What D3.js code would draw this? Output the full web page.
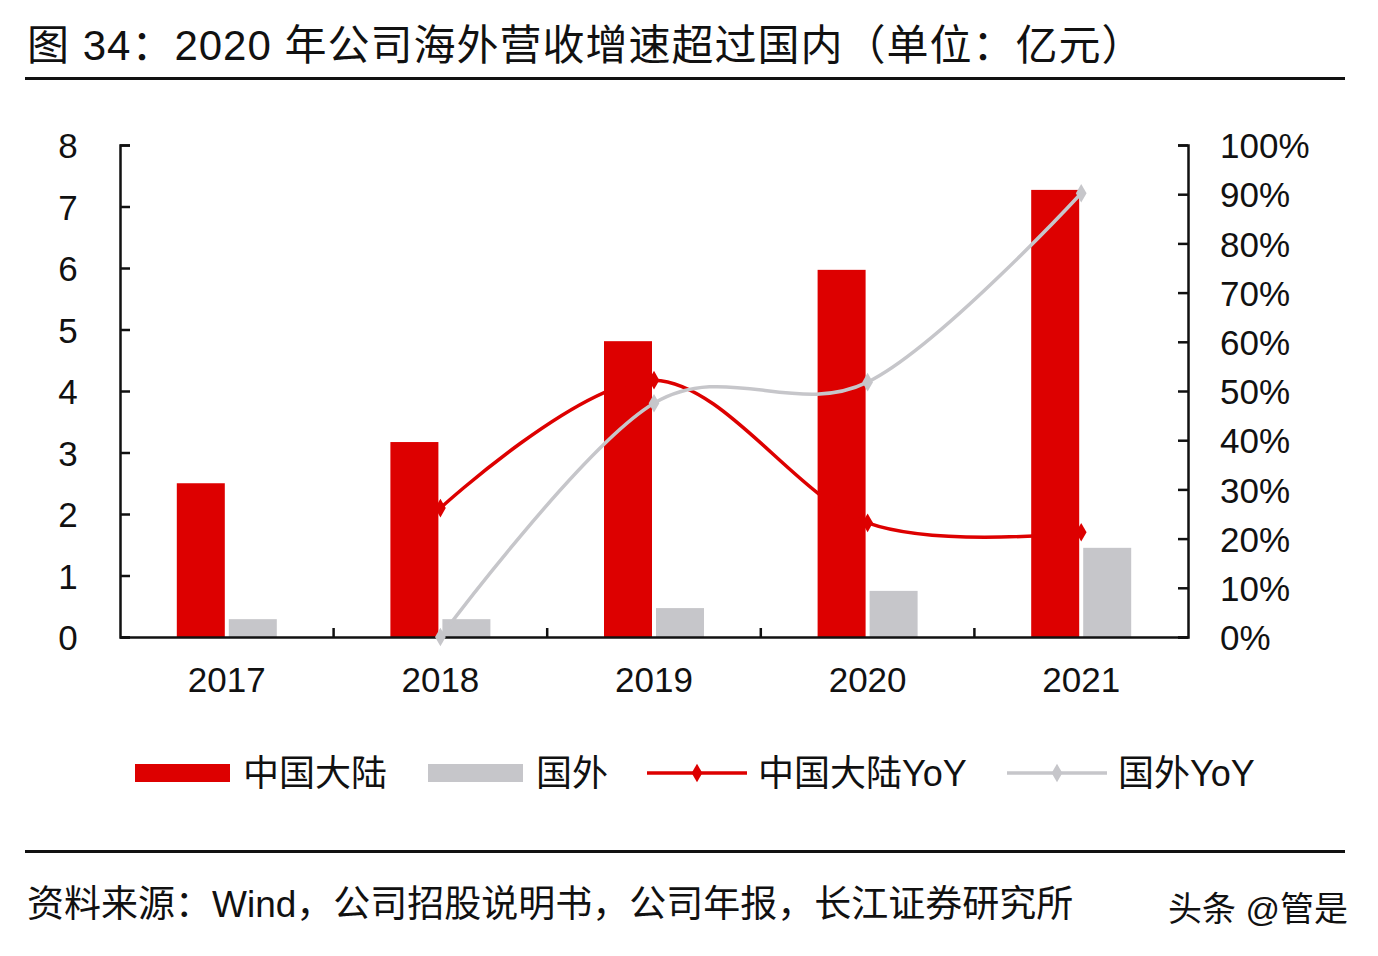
<!DOCTYPE html>
<html>
<head>
<meta charset="utf-8">
<script src="https://cdn.jsdelivr.net/npm/d3@7"></script>
<style>
  body { margin: 0; background: #fff; }
  svg text { fill: #111; font-family: "Liberation Sans", Arial, "Noto Sans CJK SC", sans-serif; }
</style>
</head>
<body>
<svg id="chart" width="1378" height="956"></svg>
<script>
// data
const years = ['2017', '2018', '2019', '2020', '2021'];
const mainland = [2.50, 3.17, 4.81, 5.97, 7.27];
const overseas = [0.29, 0.29, 0.47, 0.75, 1.45];
const mainlandYoY = [null, 0.262, 0.522, 0.232, 0.213];
const overseasYoY = [null, 0.0, 0.475, 0.518, 0.902];
const leftTicks = [0, 1, 2, 3, 4, 5, 6, 7, 8];
const rightTicks = [0, 0.1, 0.2, 0.3, 0.4, 0.5, 0.6, 0.7, 0.8, 0.9, 1.0];

const RED = '#dd0000', GREY = '#c6c6ca';

const svg = d3.select('#chart');
const plot = { left: 120, right: 1188, top: 145, bottom: 637 };

// title + rules
svg.append('text')
  .attr('x', 27).attr('y', 60)
  .style('font-size', '42px')
  .style('letter-spacing', '1px')
  .text('图 34：2020 年公司海外营收增速超过国内（单位：亿元）');
svg.append('rect').attr('x', 25).attr('y', 77).attr('width', 1320).attr('height', 3).attr('fill', '#111');
svg.append('rect').attr('x', 25).attr('y', 850).attr('width', 1320).attr('height', 3).attr('fill', '#111');

const x = d3.scaleBand().domain(years).range([plot.left, plot.right]);
const yL = d3.scaleLinear().domain([0, 8]).range([plot.bottom, plot.top]);
const yR = d3.scaleLinear().domain([0, 1]).range([plot.bottom, plot.top]);

const barW = 48, gap = 4;

// bars
svg.append('g').selectAll('rect').data(years).enter().append('rect')
  .attr('x', d => x(d) + x.bandwidth() / 2 - gap / 2 - barW)
  .attr('y', (d, i) => yL(mainland[i]))
  .attr('width', barW)
  .attr('height', (d, i) => yL(0) - yL(mainland[i]))
  .attr('fill', RED);
svg.append('g').selectAll('rect').data(years).enter().append('rect')
  .attr('x', d => x(d) + x.bandwidth() / 2 + gap / 2)
  .attr('y', (d, i) => yL(overseas[i]))
  .attr('width', barW)
  .attr('height', (d, i) => yL(0) - yL(overseas[i]))
  .attr('fill', GREY);

// axes
const axisStyle = g => {
  g.select('.domain').attr('stroke', '#111').attr('stroke-width', 2.5);
  g.selectAll('.tick line').attr('stroke', '#111').attr('stroke-width', 2.5);
  g.selectAll('.tick text').style('font-size', '35px').attr('fill', '#111');
};
svg.append('g').attr('transform', `translate(${plot.left},0)`)
  .call(d3.axisLeft(yL).tickValues(leftTicks).tickSize(-10).tickSizeOuter(-10).tickPadding(52).tickFormat(d3.format('d')))
  .call(axisStyle)
  .call(g => g.selectAll('.tick text').attr('text-anchor', 'middle').attr('dy', '0.36em'));
svg.append('g').attr('transform', `translate(${plot.right},0)`)
  .call(d3.axisRight(yR).tickValues(rightTicks).tickSize(-10).tickSizeOuter(-10).tickPadding(32).tickFormat(d3.format('.0%')))
  .call(axisStyle)
  .call(g => g.selectAll('.tick text').attr('dy', '0.36em'));
svg.append('g').attr('transform', `translate(0,${plot.bottom})`)
  .call(d3.axisBottom(x).tickSize(0).tickSizeOuter(0).tickPadding(30))
  .call(axisStyle);
// category boundary ticks
svg.append('g').selectAll('line').data(years.slice(1)).enter().append('line')
  .attr('x1', d => x(d)).attr('x2', d => x(d))
  .attr('y1', plot.bottom).attr('y2', plot.bottom - 9)
  .attr('stroke', '#111').attr('stroke-width', 2.5);

// lines
const cx = d => x(d) + x.bandwidth() / 2;
const diamond = d3.symbol().type(d3.symbolDiamond).size(100);
function drawLine(vals, color) {
  const pts = years.map((d, i) => [cx(d), vals[i]]).filter(p => p[1] !== null);
  svg.append('path')
    .datum(pts)
    .attr('fill', 'none')
    .attr('stroke', color)
    .attr('stroke-width', 3.5)
    .attr('d', d3.line().x(p => p[0]).y(p => yR(p[1])).curve(d3.curveCardinal.tension(0)));
  svg.append('g').selectAll('path').data(pts).enter().append('path')
    .attr('transform', p => `translate(${p[0]},${yR(p[1])})`)
    .attr('d', diamond)
    .attr('fill', color);
}
drawLine(mainlandYoY, RED);
drawLine(overseasYoY, GREY);

// legend
const leg = svg.append('g');
const legY = 773;
const items = [
  { type: 'bar', color: RED, label: '中国大陆', x: 135 },
  { type: 'bar', color: GREY, label: '国外', x: 428 },
  { type: 'line', color: RED, label: '中国大陆YoY', x: 647 },
  { type: 'line', color: GREY, label: '国外YoY', x: 1007 }
];
items.forEach(it => {
  if (it.type === 'bar') {
    leg.append('rect').attr('x', it.x).attr('y', legY - 9).attr('width', 95).attr('height', 18).attr('fill', it.color);
  } else {
    leg.append('line').attr('x1', it.x).attr('x2', it.x + 100).attr('y1', legY).attr('y2', legY)
      .attr('stroke', it.color).attr('stroke-width', 3.5);
    leg.append('path').attr('transform', `translate(${it.x + 50},${legY})`).attr('d', diamond).attr('fill', it.color);
  }
  leg.append('text')
    .attr('x', it.x + (it.type === 'bar' ? 108 : 111)).attr('y', legY)
    .attr('dy', '0.36em')
    .style('font-size', '36px')
    .text(it.label);
});

// footer
svg.append('text').attr('x', 27).attr('y', 917).style('font-size', '37px')
  .text('资料来源：Wind，公司招股说明书，公司年报，长江证券研究所');
svg.append('text').attr('x', 1168).attr('y', 921).style('font-size', '34px')
  .text('头条 @管是');
</script>
</body>
</html>
